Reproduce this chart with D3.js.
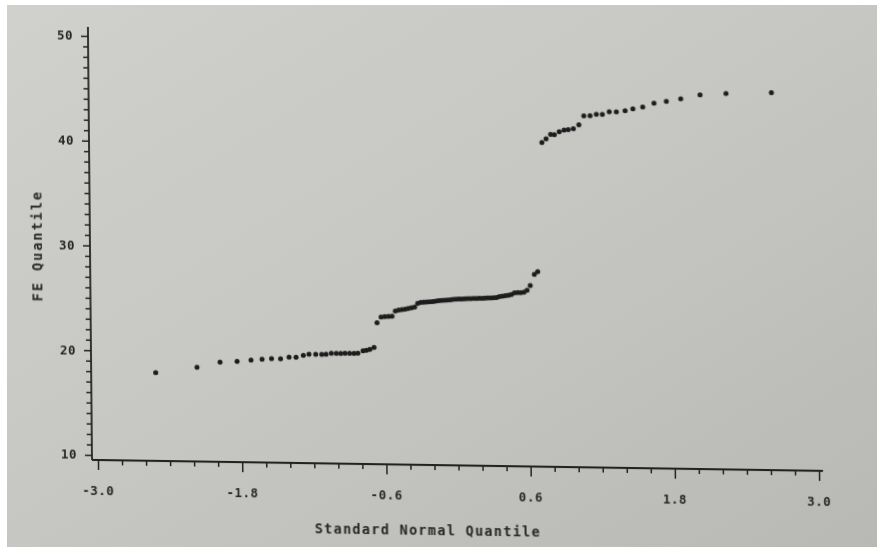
<!DOCTYPE html>
<html>
<head>
<meta charset="utf-8">
<script src="https://cdn.jsdelivr.net/npm/d3@7/dist/d3.min.js"></script>
<style>
  html, body { margin: 0; padding: 0; background: #ffffff; }
  svg { display: block; }
  text { font-family: "DejaVu Sans Mono", "Liberation Mono", monospace; fill: #262626; font-weight: bold; }
</style>
</head>
<body>
<svg id="chart" width="882" height="547"></svg>
<script>
// Standard normal quantiles (x) and matching FE quantiles (y), in rank order
const normalQuantile = [
  -2.513, -2.169, -1.977, -1.835, -1.719, -1.627, -1.548, -1.473, -1.402, -1.344,
  -1.283, -1.236, -1.180, -1.130, -1.094, -1.050, -1.008, -0.972, -0.936, -0.898,
  -0.861, -0.829, -0.786, -0.758, -0.729, -0.694,
  -0.667, -0.633, -0.602, -0.571, -0.542, -0.514, -0.486, -0.459, -0.432, -0.406,
  -0.379, -0.353, -0.327, -0.301, -0.276, -0.251, -0.226, -0.201, -0.177, -0.153,
  -0.129, -0.104, -0.080, -0.056, -0.032, -0.008, 0.016, 0.040, 0.065, 0.089,
  0.113, 0.137, 0.161, 0.185, 0.210, 0.234, 0.258, 0.282, 0.306, 0.330,
  0.354, 0.379, 0.404, 0.429, 0.454, 0.480, 0.506, 0.532, 0.558, 0.584,
  0.611, 0.646, 0.674,
  0.719, 0.754, 0.792, 0.823, 0.864, 0.904, 0.939, 0.982, 1.028, 1.070,
  1.122, 1.174, 1.224, 1.282, 1.341, 1.414, 1.479, 1.561, 1.655, 1.758,
  1.878, 2.039, 2.255, 2.633
];
const feQuantile = [
  17.96, 18.52, 19.04, 19.15, 19.29, 19.38, 19.45, 19.45, 19.61, 19.62,
  19.80, 19.93, 19.93, 19.94, 19.95, 20.05, 20.06, 20.06, 20.07, 20.07,
  20.08, 20.09, 20.34, 20.38, 20.47, 20.68,
  23.04, 23.59, 23.64, 23.66, 23.67, 24.18, 24.28, 24.33, 24.38, 24.45,
  24.51, 24.59, 24.93, 25.03, 25.06, 25.08, 25.11, 25.14, 25.19, 25.23,
  25.25, 25.28, 25.30, 25.33, 25.36, 25.39, 25.41, 25.43, 25.44, 25.46,
  25.47, 25.48, 25.50, 25.51, 25.52, 25.54, 25.55, 25.57, 25.58, 25.62,
  25.70, 25.75, 25.79, 25.85, 25.92, 26.09, 26.11, 26.12, 26.15, 26.34,
  26.81, 27.88, 28.13,
  40.47, 40.83, 41.27, 41.24, 41.52, 41.70, 41.74, 41.84, 42.23, 43.08,
  43.10, 43.24, 43.25, 43.50, 43.51, 43.63, 43.82, 44.01, 44.38, 44.59,
  44.85, 45.25, 45.42, 45.56
];

// Axis tick values and labels
const xMajorTicks = [-3.0, -1.8, -0.6, 0.6, 1.8, 3.0];
const xTickLabels = ["-3.0", "-1.8", "-0.6", "0.6", "1.8", "3.0"];
const yMajorTicks = [10, 20, 30, 40, 50];
const yTickLabels = ["10", "20", "30", "40", "50"];
const xTitle = "Standard Normal Quantile";
const yTitle = "FE Quantile";

const svg = d3.select("#chart");
const W = 882, H = 547;

// Paper background
const defs = svg.append("defs");
const grad = defs.append("linearGradient").attr("id", "paper")
  .attr("x1", "0").attr("y1", "0").attr("x2", "1").attr("y2", "1");
grad.append("stop").attr("offset", "0").attr("stop-color", "#d0d0cc");
grad.append("stop").attr("offset", "0.5").attr("stop-color", "#c6c6c2");
grad.append("stop").attr("offset", "1").attr("stop-color", "#b8b8b4");
const soft = defs.append("filter").attr("id", "soft");
soft.append("feGaussianBlur").attr("stdDeviation", 0.45);

svg.append("rect").attr("width", W).attr("height", H).attr("fill", "#ffffff");
svg.append("rect").attr("x", 7).attr("y", 5).attr("width", W - 12).attr("height", H - 5)
  .attr("fill", "url(#paper)");

// The printed page sits slightly skewed; the plot frame follows that skew
const plotW = 721, plotH = 419;
const g = svg.append("g")
  .attr("transform", "matrix(1,0.015,0.0094,1,94,36)")
  .attr("filter", "url(#soft)");

const x = d3.scaleLinear().domain([-3, 3]).range([0, plotW]);
const y = d3.scaleLinear().domain([10, 50]).range([plotH, 0]);

const axisX0 = -6;          // vertical axis position
const axisY0 = plotH + 5;   // horizontal axis position
const ink = "#242424";

// Vertical axis: ticks every 1, longer at each labelled value
const yAxis = d3.axisLeft(y)
  .tickValues(d3.range(10, 50.5, 1))
  .tickSize(5)
  .tickFormat(() => "");
const yAx = g.append("g").attr("transform", `translate(${axisX0},0)`).call(yAxis);
yAx.select(".domain").remove();
yAx.selectAll(".tick line").attr("stroke", ink).attr("stroke-width", 1.5)
  .attr("x2", d => yMajorTicks.includes(Math.round(d)) ? -7 : -5);
g.append("line").attr("x1", axisX0).attr("x2", axisX0).attr("y1", -9).attr("y2", axisY0)
  .attr("stroke", ink).attr("stroke-width", 1.8);
g.selectAll(".ylab").data(yMajorTicks).join("text").attr("class", "ylab")
  .attr("x", -21).attr("y", d => y(d)).attr("dy", "0.35em")
  .attr("text-anchor", "end").attr("font-size", 12.5).attr("letter-spacing", 0.5)
  .text((d, i) => yTickLabels[i]);

// Horizontal axis: ticks every 0.2, longer at each labelled value
const xAxis = d3.axisBottom(x)
  .tickValues(d3.range(0, 31).map(i => -3 + i * 0.2))
  .tickSize(5)
  .tickFormat(() => "");
const xAx = g.append("g").attr("transform", `translate(0,${axisY0})`).call(xAxis);
xAx.select(".domain").remove();
xAx.selectAll(".tick line").attr("stroke", ink).attr("stroke-width", 1.5)
  .attr("y2", (d, i) => i % 6 === 0 ? 10 : 5);
g.append("line").attr("x1", axisX0).attr("x2", plotW + 4).attr("y1", axisY0).attr("y2", axisY0)
  .attr("stroke", ink).attr("stroke-width", 1.8);
g.selectAll(".xlab").data(xMajorTicks).join("text").attr("class", "xlab")
  .attr("x", d => x(d)).attr("y", axisY0 + 35)
  .attr("text-anchor", "middle").attr("font-size", 12.5).attr("letter-spacing", 0.5)
  .text((d, i) => xTickLabels[i]);

// Axis titles
g.append("text").attr("x", x(-0.26)).attr("y", axisY0 + 70)
  .attr("text-anchor", "middle").attr("font-size", 13.5).attr("letter-spacing", 1.3)
  .text(xTitle);
g.append("text")
  .attr("transform", `translate(-59,${y(29.9)}) rotate(-90)`)
  .attr("text-anchor", "middle").attr("font-size", 13.5).attr("letter-spacing", 2)
  .attr("dy", "0.35em")
  .text(yTitle);

// Quantile points
const pts = normalQuantile.map((q, i) => ({ q, v: feQuantile[i] }));
g.selectAll("circle").data(pts).join("circle")
  .attr("cx", d => x(d.q)).attr("cy", d => y(d.v))
  .attr("r", 2.5).attr("fill", "#1c1c1c");
</script>
</body>
</html>
